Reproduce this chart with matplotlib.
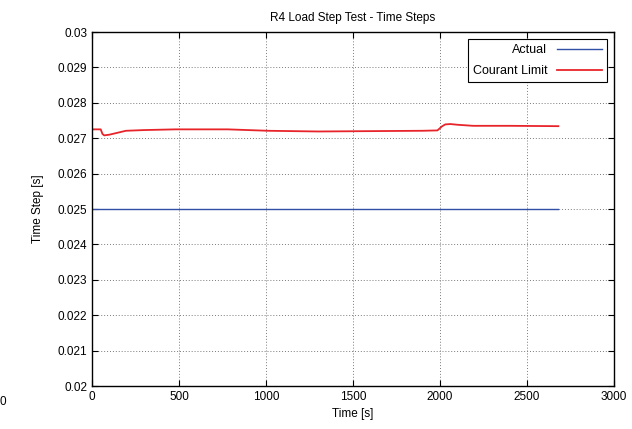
import matplotlib
matplotlib.use('Agg')
import matplotlib.pyplot as plt

plt.rcParams['font.family'] = ['Liberation Sans', 'DejaVu Sans']

# time step data
t_actual = [0, 2680]
dt_actual = [0.025, 0.025]

t_courant = [0, 50, 60, 70, 100, 195, 300, 480, 780, 1010, 1300, 1600, 1900, 1985,
             2010, 2030, 2060, 2100, 2190, 2400, 2680]
dt_courant = [0.02725, 0.02725, 0.02712, 0.02708, 0.02710, 0.02721, 0.02723, 0.02725,
              0.02725, 0.02721, 0.02719, 0.02720, 0.02721, 0.02722,
              0.02733, 0.02739, 0.02740, 0.02738, 0.02735, 0.02735, 0.02734]

fig = plt.figure(figsize=(6.32, 4.29), dpi=100)
ax = fig.add_axes([0.1456, 0.1002, 0.826, 0.8252])

ax.plot(t_actual, dt_actual, color='#2f50a4', lw=1.0, label='Actual')
ax.plot(t_courant, dt_courant, color='#e8242b', lw=1.3, label='Courant Limit')

ax.set_xlim(0, 3000)
ax.set_ylim(0.02, 0.03)
ax.set_xticks(range(0, 3001, 500))
ax.set_yticks([0.02 + 0.001 * i for i in range(11)])
ax.set_yticklabels(['0.02', '0.021', '0.022', '0.023', '0.024', '0.025',
                    '0.026', '0.027', '0.028', '0.029', '0.03'])
ax.tick_params(direction='in', top=True, right=True, labelsize=8.5, length=4, width=0.8)
ax.grid(True, linestyle=(0, (1, 2)), color='#7a7a7a', lw=0.7)
for s in ax.spines.values():
    s.set_linewidth(1.0)

ax.set_title('R4 Load Step Test - Time Steps', fontsize=8.5, pad=8)
ax.set_xlabel('Time [s]', fontsize=8.5, labelpad=4)
ax.set_ylabel('Time Step [s]', fontsize=8.5, labelpad=10)

leg = ax.legend(loc='upper right', fontsize=9, markerfirst=False, fancybox=False,
                framealpha=1, edgecolor='black', handlelength=3.6,
                borderaxespad=0.55, labelspacing=0.75, borderpad=0.4)
leg.get_frame().set_linewidth(0.8)

fig.text(0.0, 0.063, '0', fontsize=8.5, ha='left', va='center')

fig.savefig('out.png', dpi=100)
